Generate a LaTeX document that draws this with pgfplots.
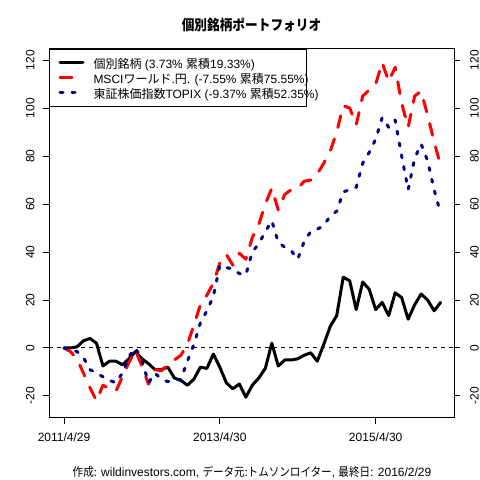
\documentclass[border=0pt]{standalone}
\usepackage{fontspec}
\setmainfont{Liberation Sans}
\newfontfamily\jpfont{Noto Sans CJK JP}
\newfontfamily\jpnarrow[FakeStretch=0.88]{Noto Sans CJK JP}
\usepackage{pgfplots}
\pgfplotsset{compat=1.18}
\usepackage{pgfplotstable}
\definecolor{rred}{RGB}{255,0,0}
\definecolor{rblue}{RGB}{0,0,139}
\newcommand{\jp}[1]{{\jpfont #1}}
\newcommand{\jn}[1]{{\jpnarrow #1}}

\pgfplotstableread{
m black red blue
0 0 0 0
1 0 -1.5 -0.5
2 0.5 -4.5 -1.5
3 3 -10.5 -4
4 4 -16.5 -9
5 2 -22 -10.5
6 -7.5 -15.5 -12
7 -5.5 -17 -13.5
8 -5.5 -18 -14.5
9 -7 -12 -10.5
10 -4.5 -6 -3.5
11 -1.5 -1 0
12 -4.5 -7.5 -5
13 -6.5 -15 -14.5
14 -9 -9 -10.5
15 -9 -9.5 -13
16 -8 -7 -14
17 -12.5 -5 -13.5
18 -13.5 -3 -13
19 -15.5 1.5 -5.5
20 -13 9.5 1.5
21 -8 18 10.5
22 -8.5 22 15.5
23 -2.5 27 21.5
24 -8 35.5 34.5
25 -14.5 39 33.5
26 -17 34.5 33
27 -15 39.5 31
28 -20.5 37 30.5
29 -15.5 46 40
30 -12.5 51.5 43.5
31 -8.5 60 48.5
32 2 66.5 53
33 -7.5 57.5 44
34 -5 64 42
35 -5 66 40.5
36 -4.5 66.5 37
37 -3 69.5 44.5
38 -2 70 48.5
39 -5.5 72.5 49.5
40 1.5 77 51
41 9 82 55
42 13.5 90 57
43 29.5 101 65
44 28 100 66
45 16 93 67
46 27.5 105 77
47 24.5 107.5 81.5
48 16 110 87
49 19 119 96
50 13.5 111 92
51 23 117 95
52 21 102 80
53 12 92 66
54 18 105 79
55 22.5 107 85
56 20 97 78
57 15.5 86 66
58 19 76 56
}\data

\begin{document}
\begin{tikzpicture}
\path[use as bounding box] (0,0) rectangle (480bp,480bp);
\begin{axis}[
  at={(49bp,62bp)}, anchor=south west,
  scale only axis, width=405bp, height=369bp,
  xmin=-2.31, xmax=60.06, ymin=-29.17, ymax=124.6,
  xtick={0,24,48}, xticklabels={2011/4/29,2013/4/30,2015/4/30},
  ytick={-20,0,20,40,60,80,100,120},
  yticklabels={-20,0,20,40,60,80,100,120},
  xtick pos=bottom, ytick pos=left,
  tick align=outside, major tick length=6bp,
  axis line style={line width=1bp},
  tick style={black, line width=1bp},
  xticklabel style={font=\fontsize{12bp}{14bp}\selectfont, anchor=base, inner sep=0pt, yshift=-17.7bp},
  yticklabel style={font=\fontsize{12bp}{14bp}\selectfont, xshift=-8.4bp, rotate=90, anchor=south, inner sep=0pt},
  legend style={at={(0,1)}, anchor=north west, draw=black, line width=1bp, fill=white,
    font=\fontsize{12bp}{14bp}\selectfont, inner xsep=9bp, inner ysep=6bp,
    row sep=0pt, column sep=9bp, cells={anchor=west},
    nodes={inner sep=0pt, text height=13.2bp, text depth=1.8bp}},
  legend image code/.code={\draw[#1] (0bp,0bp) -- (23bp,0bp);},
]
\addplot[black, line width=1bp, dash pattern=on 4bp off 4bp, forget plot] coordinates {(-2.31,0) (60.06,0)};
\addplot[black, line width=3bp, line join=round, line cap=round] table[x=m,y=black]{\data};
\addlegendentry{\makebox[204bp][l]{\jp{個別銘柄} (3.73\% \jp{累積}19.33\%)}}
\addplot[rred, line width=3bp, dash pattern=on 12bp off 12bp, line join=round, line cap=round] table[x=m,y=red]{\data};
\addlegendentry{\makebox[204bp][l]{MSCI\jp{ワールド}.\jp{円}. (-7.55\% \jp{累積}75.55\%)}}
\addplot[rblue, line width=3bp, dash pattern=on 3bp off 9bp, line join=round, line cap=round] table[x=m,y=blue]{\data};
\addlegendentry{\makebox[204bp][l]{\jp{東証株価指数}TOPIX (-9.37\% \jp{累積}52.35\%)}}
\end{axis}
\begin{axis}[
  at={(49bp,62bp)}, anchor=south west,
  scale only axis, width=405bp, height=369bp,
  xmin=-2.31, xmax=60.06, ymin=-29.17, ymax=124.6,
  axis x line=none, axis y line*=right,
  ytick={-20,0,20,40,60,80,100,120},
  yticklabels={-20,0,20,40,60,80,100,120},
  tick align=outside, major tick length=6bp,
  axis line style={line width=1bp},
  tick style={black, line width=1bp},
  yticklabel style={font=\fontsize{12bp}{14bp}\selectfont, xshift=10bp, rotate=90, anchor=north, inner sep=0pt},
]
\end{axis}
\node[font=\jpnarrow\bfseries\fontsize{14.4bp}{16bp}\selectfont] at (251.5bp,455bp) {個別銘柄ポートフォリオ};
\node[font=\fontsize{12bp}{14bp}\selectfont, anchor=base, inner sep=0pt] at (252bp,4bp)
  {\jn{作成:} wildinvestors.com, \jn{データ元:トムソンロイター}, \jn{最終日}: 2016/2/29};
\end{tikzpicture}
\end{document}
